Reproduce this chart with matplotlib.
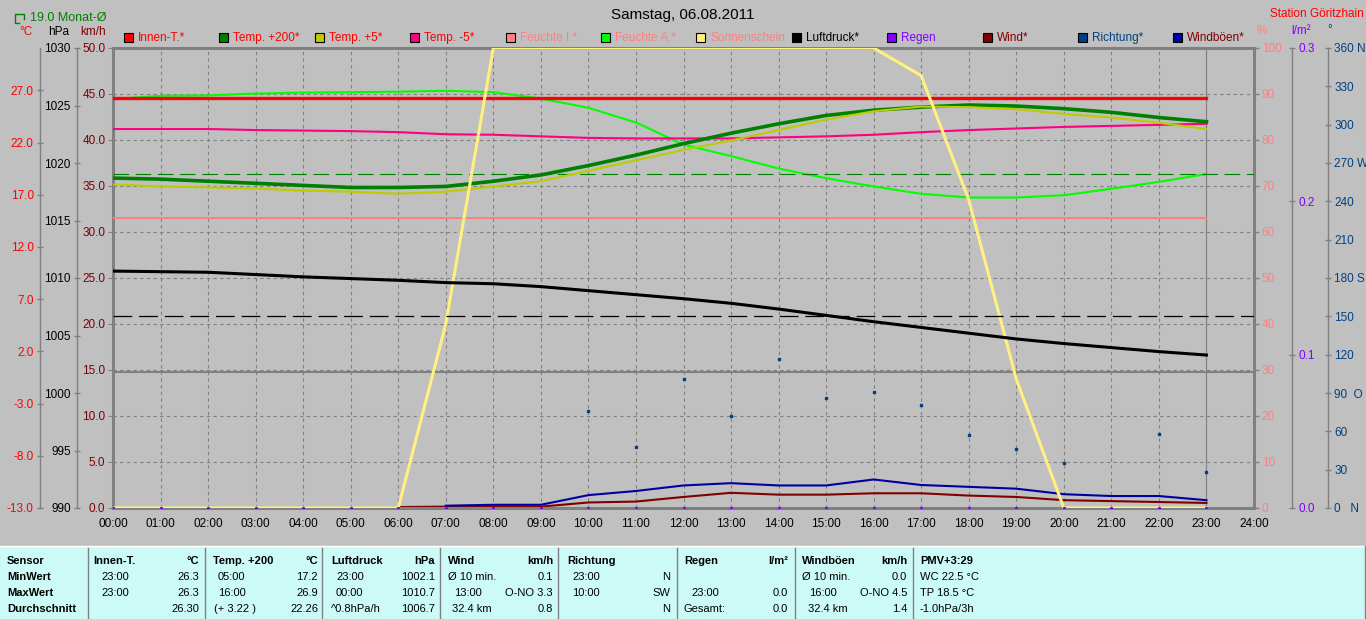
import numpy as np
import matplotlib
matplotlib.use("Agg")
import matplotlib.pyplot as plt
from matplotlib.patches import Rectangle
from matplotlib.lines import Line2D

plt.rcParams['font.family'] = ['Liberation Sans', 'DejaVu Sans']
plt.rcParams['font.size'] = 8.5

nan = np.nan

# ---- data (hourly values, 00:00 .. 23:00) ----
hours = list(range(24))
hour_labels = ["%02d:00" % h for h in range(25)]

innen_t = [26.3, 26.3, 26.3, 26.3, 26.3, 26.3, 26.3, 26.3, 26.3, 26.3, 26.3, 26.3,
           26.3, 26.3, 26.3, 26.3, 26.3, 26.3, 26.3, 26.3, 26.3, 26.3, 26.3, 26.3]
temp_200 = [18.6, 18.5, 18.3, 18.1, 17.9, 17.7, 17.7, 17.8, 18.3, 18.9, 19.8, 20.8,
            21.9, 22.9, 23.8, 24.6, 25.1, 25.4, 25.6, 25.5, 25.25, 24.9, 24.4, 24.0]
temp_5 = [18.0, 17.8, 17.7, 17.6, 17.4, 17.3, 17.1, 17.3, 17.8, 18.3, 19.3, 20.3,
          21.3, 22.2, 23.2, 24.2, 25.0, 25.45, 25.4, 25.2, 24.75, 24.4, 23.9, 23.3]
temp_m5 = [23.3, 23.3, 23.3, 23.2, 23.15, 23.1, 23.0, 22.8, 22.75, 22.6, 22.45, 22.4,
           22.4, 22.4, 22.5, 22.6, 22.75, 23.0, 23.2, 23.35, 23.5, 23.6, 23.7, 23.8]
feuchte_i = [63.0, 63.0, 63.0, 63.0, 63.0, 63.0, 63.0, 63.0, 63.0, 63.0, 63.0, 63.0,
             63.0, 63.0, 63.0, 63.0, 63.0, 63.0, 63.0, 63.0, 63.0, 63.0, 63.0, 63.0]
feuchte_a = [88.9, 89.6, 89.7, 90.1, 90.3, 90.4, 90.5, 90.7, 90.4, 89.0, 87.0, 83.8,
             79.0, 76.5, 73.8, 71.7, 69.9, 68.3, 67.5, 67.5, 68.0, 69.4, 70.9, 72.6]
sonne = [0, 0, 0, 0, 0, 0, 0, 40, 100, 100, 100, 100,
         100, 100, 100, 100, 100, 94, 67, 28, 0, 0, 0, 0]
luftdruck = [1010.6, 1010.55, 1010.5, 1010.3, 1010.1, 1009.95, 1009.8, 1009.6, 1009.5,
             1009.25, 1008.9, 1008.55, 1008.2, 1007.8, 1007.3, 1006.75, 1006.2, 1005.7,
             1005.2, 1004.7, 1004.3, 1003.95, 1003.6, 1003.3]
regen = [0.0, 0.0, 0.0, 0.0, 0.0, 0.0, 0.0, 0.0, 0.0, 0.0, 0.0, 0.0,
         0.0, 0.0, 0.0, 0.0, 0.0, 0.0, 0.0, 0.0, 0.0, 0.0, 0.0, 0.0]
wind = [nan, nan, nan, nan, nan, nan, 0.1, 0.15, 0.15, 0.15, 0.6, 0.7,
        1.2, 1.65, 1.45, 1.45, 1.6, 1.6, 1.35, 1.2, 0.85, 0.75, 0.65, 0.55]
windboeen = [nan, nan, nan, nan, nan, nan, nan, 0.25, 0.35, 0.35, 1.4, 1.85,
             2.45, 2.7, 2.45, 2.45, 3.1, 2.5, 2.3, 2.1, 1.5, 1.3, 1.3, 0.85]
richtung = [nan, nan, nan, nan, nan, nan, nan, nan, nan, nan, 76, 48,
            101, 72, 117, 86, 91, 81, 57, 46, 35, nan, 58, 28]

monat_mittel = 19.0
druck_mittel = 1006.7

temp_ticks = [-13, -8, -3, 2, 7, 12, 17, 22, 27]
hpa_ticks = [990, 995, 1000, 1005, 1010, 1015, 1020, 1025, 1030]
kmh_ticks = [0, 5, 10, 15, 20, 25, 30, 35, 40, 45, 50]
pct_ticks = [0, 10, 20, 30, 40, 50, 60, 70, 80, 90, 100]
rain_ticks = [0.0, 0.1, 0.2, 0.3]
dir_ticks = [0, 30, 60, 90, 120, 150, 180, 210, 240, 270, 300, 330, 360]
dir_labels = ["0   N", "30", "60", "90  O", "120", "150", "180 S", "210", "240",
              "270 W", "300", "330", "360 N"]

legend_names = ["Innen-T.*", "Temp. +200*", "Temp. +5*", "Temp. -5*", "Feuchte I.*",
                "Feuchte A.*", "Sonnenschein", "Luftdruck*", "Regen", "Wind*",
                "Richtung*", "Windböen*"]
legend_colors = ["#FF0000", "#008000", "#BCCC00", "#FF0080", "#FF8080", "#00FF00",
                 "#FFF080", "#000000", "#8000FF", "#800000", "#004080", "#0000A0"]
legend_text_colors = ["#FF0000", "#FF0000", "#FF0000", "#FF0000", "#FF8080", "#FF8080",
                      "#FF8080", "#000000", "#8000FF", "#800000", "#004080", "#800000"]

# ---- figure geometry (pixels) ----
W, H = 1366, 619
L, R, T, B = 113, 1254, 48, 508
GRAY = "#808080"
BG = "#C0C0C0"


def fx(x):
    return x / W


def fy(y):
    return 1 - y / H


fig = plt.figure(figsize=(W / 100, H / 100), dpi=100, facecolor=BG)
ax = fig.add_axes([fx(L), fy(B), (R - L) / W, (B - T) / H])
ax.set_facecolor(BG)
ax.set_xlim(0, 24)
ax.set_ylim(0, 50)
for s in ax.spines.values():
    s.set_color(GRAY)
    s.set_linewidth(2.2)
ax.set_xticks(range(25))
ax.set_xticklabels(hour_labels)
ax.set_yticks(kmh_ticks)
ax.set_yticklabels(["%.1f" % v for v in kmh_ticks], color="#800000")
ax.tick_params(axis='x', length=0, pad=7)
ax.tick_params(axis='y', direction='out', length=3.5, color=GRAY, pad=2)
ax.grid(True, color=GRAY, linestyle=(0, (3, 3)), linewidth=0.8)
ax.set_axisbelow(True)
ax.axvline(23, color=GRAY, lw=0.8)

# wind on km/h scale
ax.plot(hours, wind, color="#800000", lw=1.5)
ax.plot(hours, windboeen, color="#0000A0", lw=1.5)


def twin(side, pos, color, ticks, labels, lim, ticklen=5, direction='inout'):
    a = ax.twinx()
    a.set_ylim(*lim)
    for s in a.spines.values():
        s.set_visible(False)
    if side is None:
        a.yaxis.set_visible(False)
        return a
    if side == 'left':
        a.yaxis.tick_left()
    else:
        a.yaxis.tick_right()
    if pos is not None:
        a.spines[side].set_visible(True)
        a.spines[side].set_position(('axes', pos))
        a.spines[side].set_color(GRAY)
        a.spines[side].set_linewidth(1)
    a.set_yticks(ticks)
    a.set_yticklabels(labels, color=color)
    a.tick_params(axis='y', direction=direction, length=ticklen, width=1,
                  color=GRAY, pad=2)
    return a


pw = R - L
# humidity (%) axis at the plot's right edge
axH = twin('right', None, "#FF8080", pct_ticks, [str(v) for v in pct_ticks], (0, 100),
           ticklen=3.5, direction='out')
axH.plot(hours, feuchte_i, color="#FF8080", lw=1.4)
axH.plot(hours, feuchte_a, color="#00FF00", lw=1.5)

# temperatures (°C)
axT = twin('left', (40 - L) / pw, "#FF0000", temp_ticks, ["%.1f" % v for v in temp_ticks],
           (-13, 31.06))
axT.axhline(0, color=GRAY, lw=1.5)
axT.axhline(monat_mittel, color="#008000", lw=0.8, dashes=(14, 6))
axT.plot(hours, innen_t, color="#FF0000", lw=2.4)
axT.plot(hours, temp_m5, color="#FF0080", lw=1.5)
axT.plot(hours, temp_200, color="#008000", lw=2.6)
axT.plot(hours, temp_5, color="#BCCC00", lw=1.5)

# sunshine (%)
axS = twin(None, None, None, None, None, (0, 100))
axS.plot(hours, sonne, color="#FFF080", lw=2.2)

# pressure (hPa)
axP = twin('left', (77 - L) / pw, "#000000", hpa_ticks, [str(v) for v in hpa_ticks],
           (990, 1030))
axP.axhline(druck_mittel, color="#000000", lw=0.9, dashes=(15, 5.5))
axP.plot(hours, luftdruck, color="#000000", lw=2.2)

# rain (l/m²)
axR = twin('right', (1292 - L) / pw, "#8000FF", rain_ticks,
           ["%.1f" % v for v in rain_ticks], (0, 0.3))
axR.plot(hours, regen, ls='none', marker='s', ms=1.2, color="#8000FF")

# wind direction (°)
axD = twin('right', (1328 - L) / pw, "#004080", dir_ticks, dir_labels, (0, 360))
axD.plot(hours, richtung, ls='none', marker='s', ms=1.6, color="#004080")

# ---- header ----
fig.text(fx(683), fy(15), "Samstag, 06.08.2011", ha='center', va='center', fontsize=11)
fig.text(fx(1270), fy(14), "Station Göritzhain", color="#FF0000", va='center')
fig.text(fx(30), fy(18), "19.0 Monat-Ø", color="#008000", va='center', fontsize=9)
fig.add_artist(Line2D([fx(24), fx(24), fx(15), fx(15), fx(19)],
                      [fy(19), fy(14), fy(14), fy(23), fy(23)],
                      transform=fig.transFigure, color="#008000", lw=1))
fig.text(fx(19), fy(32), "°C", color="#FF0000", va='center')
fig.text(fx(48), fy(32), "hPa", color="#000000", va='center')
fig.text(fx(80), fy(32), "km/h", color="#800000", va='center')
fig.text(fx(1257), fy(31), "%", color="#FF8080", va='center')
fig.text(fx(1291), fy(31), "l/m²", color="#8000FF", va='center')
fig.text(fx(1327), fy(30), "°", color="#004080", va='center')

for i, (name, c, tc) in enumerate(zip(legend_names, legend_colors, legend_text_colors)):
    x0 = 124 + i * 95.4
    fig.add_artist(Rectangle((fx(x0), fy(42)), 9 / W, 9 / H, transform=fig.transFigure,
                             facecolor=c, edgecolor="black", lw=0.8))
    fig.text(fx(x0 + 14), fy(38), name, color=tc, va='center')

# ---- summary table at the bottom ----
fig.add_artist(Rectangle((0, 0), fx(1365), fy(546), transform=fig.transFigure,
                         facecolor="#CCFAF6", edgecolor='none'))
fig.add_artist(Line2D([0, fx(1365)], [fy(546), fy(546)], transform=fig.transFigure,
                      color="white", lw=1))
fig.add_artist(Line2D([fx(1365), fx(1365)], [0, fy(546)], transform=fig.transFigure,
                      color=GRAY, lw=1))
for xs in [88, 205, 322, 440, 558, 677, 795, 913]:
    fig.add_artist(Line2D([fx(xs), fx(xs)], [0, fy(548)], transform=fig.transFigure,
                          color=GRAY, lw=1))

rows_y = [561, 577, 593, 609]
row_names = ["Sensor", "MinWert", "MaxWert", "Durchschnitt"]
for yy, name in zip(rows_y, row_names):
    fig.text(fx(7), fy(yy), name, va='center', fontsize=8, fontweight='bold')

# (x_left, x_right, header_left, header_right, [(indent, left, right) per row])
table_cols = [
    (93, 199, "Innen-T.", "°C", [(8, "23:00", "26.3"), (8, "23:00", "26.3"), (0, "", "26.30")]),
    (213, 318, "Temp. +200", "°C", [(5, "05:00", "17.2"), (5, "16:00", "26.9"), (1, "(+ 3.22 )", "22.26")]),
    (331, 435, "Luftdruck", "hPa", [(5, "23:00", "1002.1"), (5, "00:00", "1010.7"), (0, "^0.8hPa/h", "1006.7")]),
    (448, 553, "Wind", "km/h", [(0, "Ø 10 min.", "0.1"), (6, "13:00", "O-NO 3.3"), (4, "32.4 km", "0.8")]),
    (567, 670, "Richtung", "", [(5, "23:00", "N"), (5, "10:00", "SW"), (0, "", "N")]),
    (684, 788, "Regen", "l/m²", [(0, "", ""), (7, "23:00", "0.0"), (0, "Gesamt:", "0.0")]),
    (802, 907, "Windböen", "km/h", [(0, "Ø 10 min.", "0.0"), (7, "16:00", "O-NO 4.5"), (6, "32.4 km", "1.4")]),
    (920, 1040, "PMV+3:29", "", [(0, "WC 22.5 °C", ""), (0, "TP 18.5 °C", ""), (0, "-1.0hPa/3h", "")]),
]
for xl, xr, hl, hr, cells in table_cols:
    fig.text(fx(xl), fy(rows_y[0]), hl, va='center', fontsize=8, fontweight='bold')
    fig.text(fx(xr), fy(rows_y[0]), hr, va='center', ha='right', fontsize=8, fontweight='bold')
    for yy, (ind, lt, rt) in zip(rows_y[1:], cells):
        fig.text(fx(xl + ind), fy(yy), lt, va='center', fontsize=8)
        fig.text(fx(xr), fy(yy), rt, va='center', ha='right', fontsize=8)

fig.savefig("out.png", dpi=100, facecolor=BG)
